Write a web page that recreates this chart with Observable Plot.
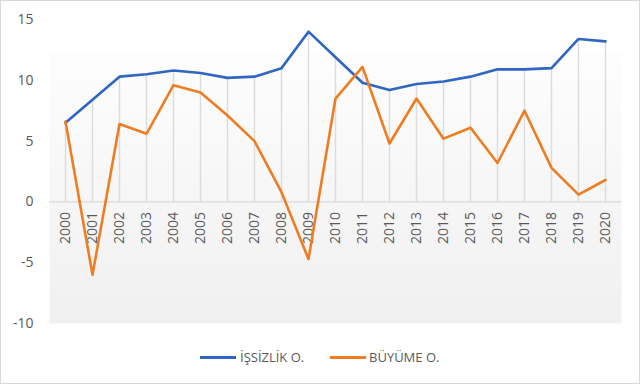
<!DOCTYPE html>
<html><head><meta charset="utf-8">
<script src="https://cdn.jsdelivr.net/npm/d3@7"></script>
<script src="https://cdn.jsdelivr.net/npm/@observablehq/plot@0.6"></script>
<style>
body{margin:0;background:#fff;}
#wrap{position:relative;width:638px;height:382px;border:1px solid #d9d9d9;background:#fff;font-family:"Open Sans",sans-serif;overflow:hidden}
#chart svg{display:block}
.lg-line{position:absolute;height:3px;top:355px;width:36px}
.lg-text{position:absolute;top:347px;font-size:13px;line-height:18px;color:#595959;white-space:nowrap}
</style></head><body>
<div id="wrap"><div id="chart"></div><div id="legend"></div></div>
<script>
const years = ["2000","2001","2002","2003","2004","2005","2006","2007","2008","2009","2010","2011","2012","2013","2014","2015","2016","2017","2018","2019","2020"];
const unemployment = [6.5, 8.4, 10.3, 10.5, 10.8, 10.6, 10.2, 10.3, 11.0, 14.0, 11.9, 9.8, 9.2, 9.7, 9.9, 10.3, 10.9, 10.9, 11.0, 13.4, 13.2];
const growth = [6.6, -6.0, 6.4, 5.6, 9.6, 9.0, 7.1, 5.0, 0.8, -4.7, 8.5, 11.1, 4.8, 8.5, 5.2, 6.1, 3.2, 7.5, 2.8, 0.6, 1.8];
const seriesNames = ["İŞSİZLİK O.", "BÜYÜME O."];
const seriesColors = ["#2e66c2", "#ee7d22"];
const yTicks = [-10, -5, 0, 5, 10, 15];

const rows = years.map((y, i) => ({year: y, u: unemployment[i], g: growth[i]}));

const chart = Plot.plot({
  width: 638, height: 340,
  marginTop: 18, marginBottom: 18, marginLeft: 48, marginRight: 18,
  style: {fontFamily: '"Open Sans", sans-serif', fontSize: "14px", color: "#595959", background: "transparent"},
  x: {type: "point", domain: years, padding: 0.5, axis: null},
  y: {domain: [-10, 15], ticks: yTicks, tickSize: 0, tickPadding: 16, tickFormat: d => String(d), label: null},
  marks: [
    Plot.frame({fill: "url(#plotbg)", stroke: "none"}),
    Plot.ruleX(rows, {x: "year", y1: 0, y2: d => Math.max(d.u, d.g), stroke: "#dcdcdc", strokeWidth: 1.4}),
    Plot.ruleY([0], {stroke: "#d9d9d9", strokeWidth: 1.3}),
    Plot.text(rows, {x: "year", y: 0, text: "year", rotate: -90, textAnchor: "end", dy: 10, fill: "#595959", fontSize: 14}),
    Plot.line(rows, {x: "year", y: "u", stroke: seriesColors[0], strokeWidth: 2.6}),
    Plot.line(rows, {x: "year", y: "g", stroke: seriesColors[1], strokeWidth: 2.6})
  ]
});
d3.select(chart).insert("defs", ":first-child").html(
  '<linearGradient id="plotbg" x1="0" y1="0" x2="0" y2="1">' +
  '<stop offset="0" stop-color="#ffffff"/><stop offset="0.11" stop-color="#ffffff"/>' +
  '<stop offset="0.112" stop-color="#fdfdfd"/><stop offset="1" stop-color="#f0f0f0"/></linearGradient>');
document.getElementById("chart").appendChild(chart);

const legend = document.getElementById("legend");
const lgPos = [[199, 239], [329, 368]];
seriesNames.forEach((name, i) => {
  const l = document.createElement("div");
  l.className = "lg-line"; l.style.left = lgPos[i][0] + "px"; l.style.background = seriesColors[i];
  const t = document.createElement("div");
  t.className = "lg-text"; t.style.left = lgPos[i][1] + "px"; t.textContent = name;
  legend.appendChild(l); legend.appendChild(t);
});
</script>
</body></html>
